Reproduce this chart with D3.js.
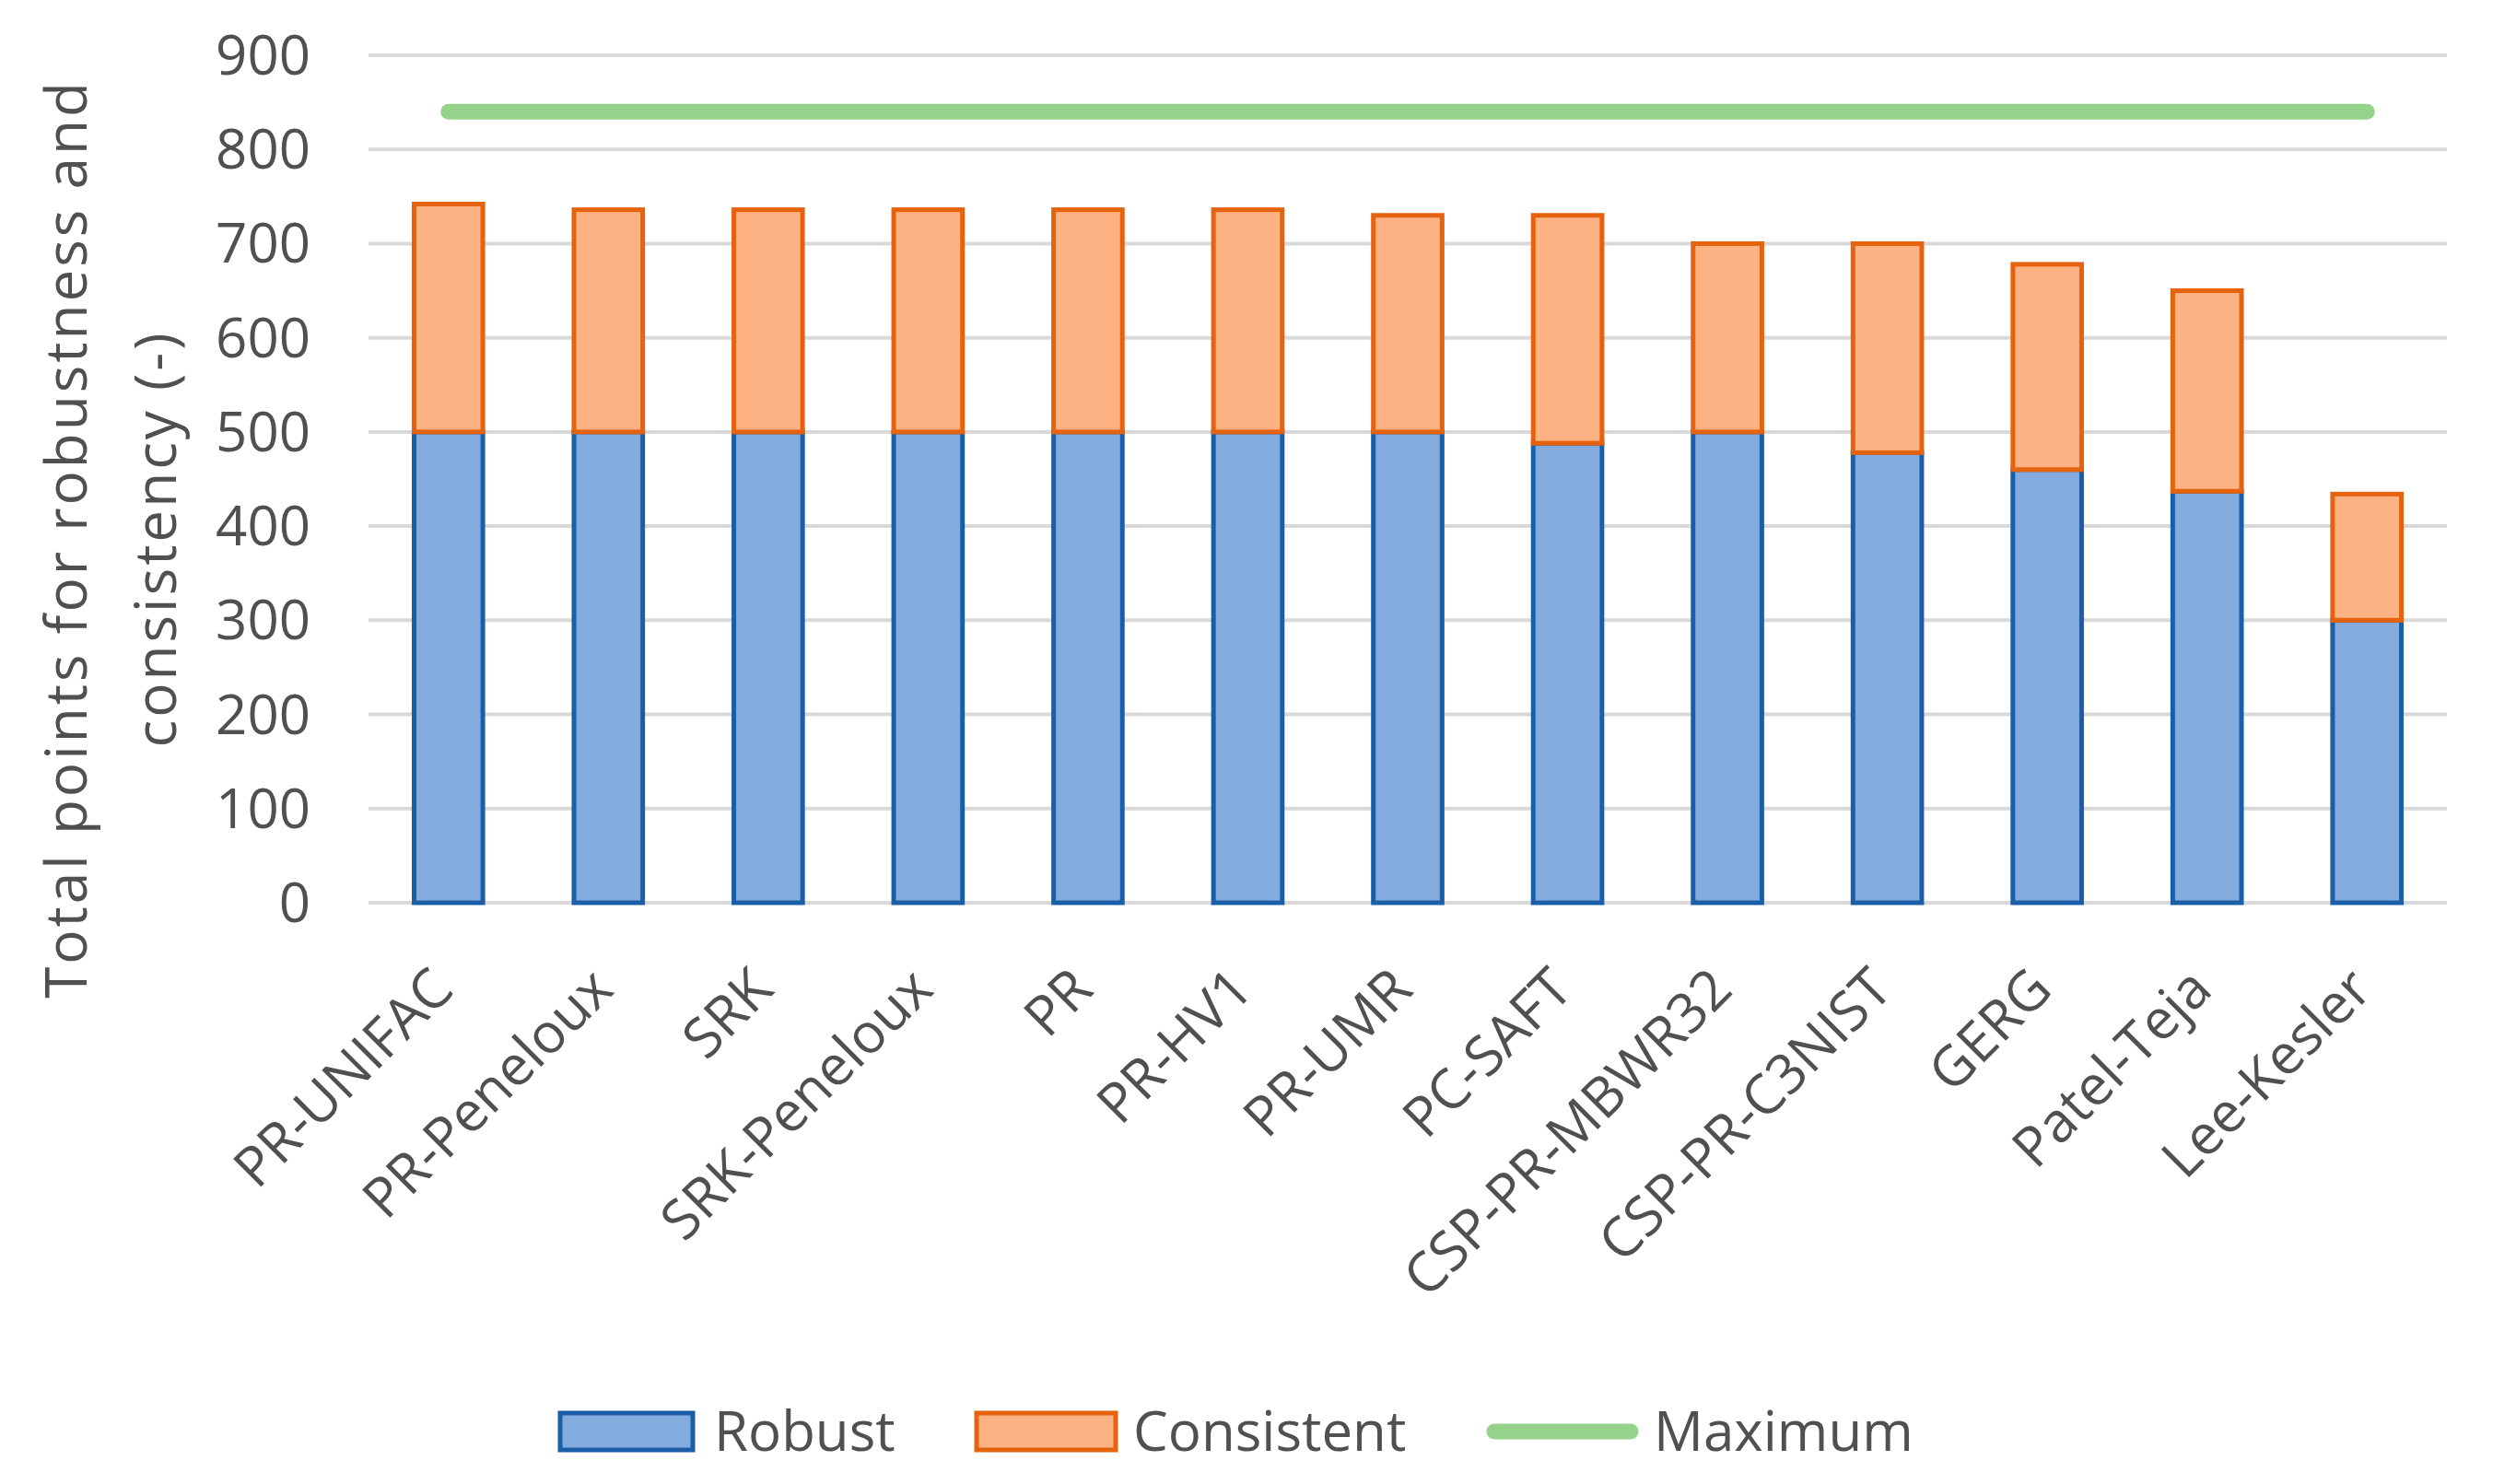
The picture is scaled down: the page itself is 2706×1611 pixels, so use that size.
<!DOCTYPE html>
<html>
<head>
<meta charset="utf-8">
<script src="https://cdn.jsdelivr.net/npm/d3@7"></script>
<style>
  body { margin: 0; background: #fff; }
  text { font-family: "Open Sans", sans-serif; fill: #505050; }
</style>
</head>
<body>
<div id="chart"></div>
<script>
// data
const models = ["PR-UNIFAC", "PR-Peneloux", "SRK", "SRK-Peneloux", "PR", "PR-HV1", "PR-UMR",
  "PC-SAFT", "CSP-PR-MBWR32", "CSP-PR-C3NIST", "GERG", "Patel-Teja", "Lee-Kesler"];
const robust = [500, 500, 500, 500, 500, 500, 500, 488, 500, 478, 460, 437, 300];
const total = [742, 736, 736, 736, 736, 736, 730, 730, 700, 700, 678, 650, 434];
const maximum = 840;
const yTicks = [0, 100, 200, 300, 400, 500, 600, 700, 800, 900];

const W = 2706, H = 1611;
const svg = d3.select("#chart").append("svg")
  .attr("width", W)
  .attr("height", H);

const x = d3.scaleBand().domain(models).range([400, 2656]).paddingInner(0.57).paddingOuter(0.285);
const y = d3.scaleLinear().domain([0, 900]).range([980, 60]);

// gridlines
svg.append("g")
  .selectAll("line")
  .data(yTicks)
  .enter()
  .append("line")
  .attr("x1", 400).attr("x2", 2656)
  .attr("y1", d => y(d)).attr("y2", d => y(d))
  .attr("stroke", "#d9d9d9")
  .attr("stroke-width", 4);

// y tick labels
svg.append("g")
  .selectAll("text")
  .data(yTicks)
  .enter()
  .append("text")
  .attr("x", 337)
  .attr("y", d => y(d))
  .attr("dy", "0.35em")
  .attr("text-anchor", "end")
  .attr("font-size", "60px")
  .text(d => d);

// y title, two lines
const title = svg.append("text")
  .attr("transform", "translate(72,585) rotate(-90)")
  .attr("text-anchor", "middle")
  .attr("font-size", "62px")
  .attr("letter-spacing", "3px");
title.append("tspan").attr("x", 0).attr("dy", "0.35em").text("Total points for robustness and");
title.append("tspan").attr("x", 0).attr("dy", 97).text("consistency (-)");

// stacked bars
const bars = svg.append("g");
bars.selectAll("rect.robust")
  .data(models)
  .enter()
  .append("rect")
  .attr("class", "robust")
  .attr("x", d => x(d))
  .attr("width", x.bandwidth())
  .attr("y", (d, i) => y(robust[i]))
  .attr("height", (d, i) => y(0) - y(robust[i]))
  .attr("fill", "#83abdd")
  .attr("stroke", "#1b5ea8")
  .attr("stroke-width", 5);

bars.selectAll("rect.consistent")
  .data(models)
  .enter()
  .append("rect")
  .attr("class", "consistent")
  .attr("x", d => x(d))
  .attr("width", x.bandwidth())
  .attr("y", (d, i) => y(total[i]))
  .attr("height", (d, i) => y(robust[i]) - y(total[i]))
  .attr("fill", "#fdb283")
  .attr("stroke", "#e5620e")
  .attr("stroke-width", 5);

// maximum line
svg.append("line")
  .attr("x1", x(models[0]) + x.bandwidth() / 2)
  .attr("x2", x(models[models.length - 1]) + x.bandwidth() / 2)
  .attr("y1", y(maximum)).attr("y2", y(maximum))
  .attr("stroke", "#95d38a")
  .attr("stroke-width", 17)
  .attr("stroke-linecap", "round");

// category labels, rotated
svg.append("g")
  .selectAll("text")
  .data(models)
  .enter()
  .append("text")
  .attr("transform", d => `translate(${x(d) + x.bandwidth() / 2 + 8},1077) rotate(-45)`)
  .attr("text-anchor", "end")
  .attr("font-size", "60px")
  .text(d => d);

// legend
const legend = svg.append("g");
legend.append("rect").attr("x", 608).attr("y", 1534).attr("width", 144).attr("height", 40)
  .attr("fill", "#83abdd").attr("stroke", "#1b5ea8").attr("stroke-width", 5);
legend.append("text").attr("x", 775).attr("y", 1554).attr("dy", "0.35em")
  .attr("font-size", "60px").text("Robust");
legend.append("rect").attr("x", 1060).attr("y", 1534).attr("width", 151).attr("height", 40)
  .attr("fill", "#fdb283").attr("stroke", "#e5620e").attr("stroke-width", 5);
legend.append("text").attr("x", 1230).attr("y", 1554).attr("dy", "0.35em")
  .attr("font-size", "60px").text("Consistent");
legend.append("line").attr("x1", 1622).attr("x2", 1770).attr("y1", 1554).attr("y2", 1554)
  .attr("stroke", "#95d38a").attr("stroke-width", 17).attr("stroke-linecap", "round");
legend.append("text").attr("x", 1795).attr("y", 1554).attr("dy", "0.35em")
  .attr("font-size", "60px").text("Maximum");
</script>
</body>
</html>
